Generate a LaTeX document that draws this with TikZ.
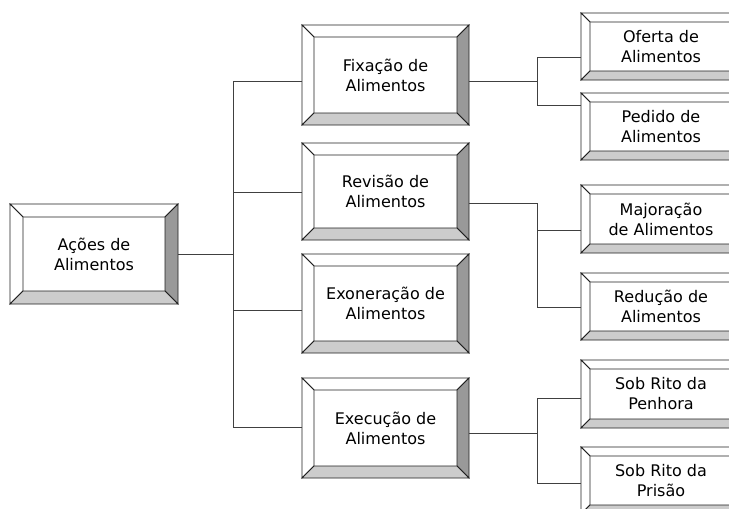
\documentclass[tikz,border=0pt]{standalone}
\usepackage{fontspec}
\setmainfont{DejaVu Sans}
\usetikzlibrary{calc}
\definecolor{edge}{HTML}{202020}
\definecolor{conncol}{HTML}{404040}
\definecolor{rightbev}{HTML}{999999}
\definecolor{botbev}{HTML}{CCCCCC}
\tikzset{
  bx/.style={draw=none, inner sep=0pt, align=center, text=black,
    font=\fontsize{16}{20}\selectfont},
  bev/.style={draw=edge, line width=0.8pt, line join=miter},
  conn/.style={draw=conncol, line width=0.8pt}
}
% name, x1, y1, x2, y2, bevel, text
\newcommand\bevelbox[7]{%
  \fill[white] (#2,#3) rectangle (#4,#5);
  \draw[bev, fill=white] (#2,#3) -- (#4,#3) -- (#4-#6,#3+#6) -- (#2+#6,#3+#6) -- cycle;
  \draw[bev, fill=white] (#2,#3) -- (#2+#6,#3+#6) -- (#2+#6,#5-#6) -- (#2,#5) -- cycle;
  \draw[bev, fill=rightbev] (#4,#3) -- (#4,#5) -- (#4-#6,#5-#6) -- (#4-#6,#3+#6) -- cycle;
  \draw[bev, fill=botbev] (#2,#5) -- (#4,#5) -- (#4-#6,#5-#6) -- (#2+#6,#5-#6) -- cycle;
  \node[bx, minimum width={(#4-#2)*1pt}, minimum height={(#5-#3)*1pt}] (#1)
    at ({(#2+#4)/2},{(#3+#5)/2}) {#7};
}
\begin{document}
\begin{tikzpicture}[x=1pt, y=-1pt]
\useasboundingbox (0,0) rectangle (729,509);
\fill[white] (0,0) rectangle (729,509);
\clip (0,0) rectangle (729,509);

% boxes
\bevelbox{root}{10}{204}{178}{304}{13}{Ações de\\Alimentos}
\bevelbox{fix}{302}{25}{469}{125}{12}{Fixação de\\Alimentos}
\bevelbox{rev}{302}{143}{469}{240}{12}{Revisão de\\Alimentos}
\bevelbox{exo}{302}{254}{469}{353}{12}{Exoneração de\\Alimentos}
\bevelbox{exe}{302}{378}{469}{478}{12}{Execução de\\Alimentos}

\bevelbox{ofe}{581}{13}{741}{80}{9}{Oferta de\\Alimentos}
\bevelbox{ped}{581}{93}{741}{160}{9}{Pedido de\\Alimentos}
\bevelbox{maj}{581}{185}{741}{253}{9}{Majoração\\de Alimentos}
\bevelbox{red}{581}{273}{741}{340}{9}{Redução de\\Alimentos}
\bevelbox{pen}{581}{360}{741}{428}{9}{Sob Rito da\\Penhora}
\bevelbox{pri}{581}{447}{741}{514}{9}{Sob Rito da\\Prisão}

% trunk
\coordinate (tt) at (233,81);
\coordinate (tb) at (233,427);
\draw[conn] (tt) -- (tb);
\draw[conn] (root.east) -- (root.east -| tt);
\draw[conn] ($(fix.west)+(0,6)$) -| (tt);
\draw[conn] ($(rev.west)+(0,0.5)$) -| (tt);
\draw[conn] ($(exo.west)+(0,6.5)$) -| (tt);
\draw[conn] ($(exe.west)+(0,-1)$) -| (tb);

% Fixacao branch
\coordinate (b1) at (537,81);
\draw[conn] ($(fix.east)+(0,6)$) -- (b1);
\draw[conn] ($(ofe.west)+(0,10.5)$) -| (b1);
\draw[conn] ($(ped.west)+(0,-21.5)$) -| (b1);

% Revisao branch
\coordinate (b2) at (537,203);
\draw[conn] ($(rev.east)+(0,11.5)$) -- (b2);
\draw[conn] ($(maj.west)+(0,11)$) -| (b2);
\draw[conn] ($(red.west)+(0,0.5)$) -| (b2);

% Execucao branch
\coordinate (b3) at (537,433);
\draw[conn] ($(exe.east)+(0,5)$) -- (b3);
\draw[conn] ($(pen.west)+(0,4)$) -| (b3);
\draw[conn] ($(pri.west)+(0,2.5)$) -| (b3);
\end{tikzpicture}
\end{document}
